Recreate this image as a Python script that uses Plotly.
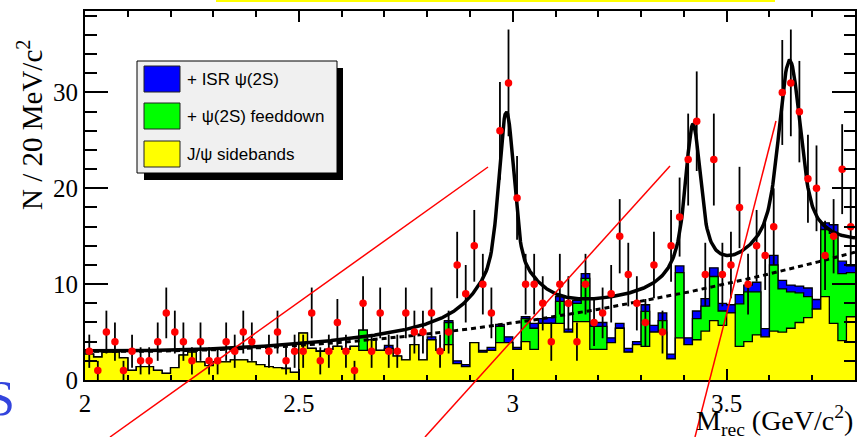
import numpy as np
import plotly.graph_objects as go

# ---------------- data ----------------
bin_start = 2.0
bin_width = 0.02
n_bins = 90

data_counts = [3, 1, 5, 4, 1, 3, 2, 2, 4, 7,
               5, 4, 2, 4, 2, 2, 4, 3, 5, 4,
               None, 3, 5, 2, 3, 3, 7, 2, 3, 6,
               3, 1, 8, 3, 7, 3, 3, 7, 5, 5,
               7, 3, 5, 12, 9, 14, 10, 7, 26, 31,
               19, 10, 10, 8, 4, 10, 8, 4, 10, 6,
               7, 9, 15, 11, 8, 6, 12, 5, 14, 17,
               23, 27, 11, 23, 11, 12, 18, 10, 14, 13,
               16, 30, 31, 28, 21, 20, 13, 15, 22, 16]

sidebands = [2.7, 2.4, 2.9, 2.9, 2.3, 1.0, 1.4, 1.4, 1.0, 0.7,
             1.3, 2.6, 2.9, 1.9, 1.5, 1.9, 1.9, 2.1, 2.1, 1.9,
             1.6, 1.4, 1.3, 1.2, 0.8, 4.9, 3.3, 3.0, 3.2, 3.5,
             3.2, 3.5, 3.1, 4.2, 3.1, 3.3, 2.5, 2.1, 3.7, 2.1,
             4.2, 3.1, 3.7, 1.7, 1.4, 3.9, 2.9, 3.1, 3.9, 3.9,
             3.2, 4.0, 3.2, 5.9, 5.9, 5.9, 5.0, 6.1, 6.1, 3.2,
             3.2, 3.9, 5.4, 2.9, 3.7, 3.5, 5.0, 5.0, 2.2, 4.4,
             3.7, 4.2, 5.1, 6.2, 5.7, 7.0, 3.5, 4.0, 4.7, 4.5,
             5.1, 5.0, 5.4, 6.0, 6.5, 7.4, 8.7, 5.9, 4.1, 6.6]

feeddown = [0, 0, 0, 0, 0, 0, 0, 0, 0, 0,
            0, 0, 0, 0, 0, 0, 0, 0, 0, 0,
            0, 0, 0, 0, 0, 0, 0, 0, 0, 0,
            0, 0, 2.1, 0, 0, 0, 0, 0, 0, 0,
            0, 0, 2.3, 0, 0, 0, 0, 0, 1.7, 0,
            0, 2.4, 2.2, 0, 0, 2.3, 0, 1.9, 4.5, 2.4,
            2.4, 0, 0, 0, 0, 3.65, 0, 1.2, 0, 6.8,
            0, 2.2, 2.6, 4.6, 1.5, 0, 4.45, 5.2, 4.5, 0,
            6.9, 4.5, 3.8, 3.1, 2.2, 0, 7.0, 9.4, 7.0, 4.6]

isr = [0, 0, 0, 0, 0, 0, 0, 0, 0, 0,
       0, 0, 0, 0, 0, 0, 0, 0, 0, 0,
       0, 0, 0, 0, 0, 0, 0, 0, 0, 0,
       0, 0, 0, 0, 0, 0.3, 0, 0, 0, 0,
       0.3, 0, 0.2, 0.3, 0.2, 0, 0.2, 0.3, 0.2, 0.6,
       0.2, 0.2, 0.5, 0.5, 0.6, 0.5, 0.3, 0.3, 0.5, 0.4,
       0.4, 0.5, 0.5, 0.4, 0.3, 0.7, 0.7, 0.8, 0.5, 0.7,
       0.7, 0.8, 0.8, 0.9, 0.8, 0.85, 0.95, 0.7, 1.0, 0.85,
       1.0, 0.9, 0.7, 0.7, 0.9, 1.0, 0.7, 0.9, 1.3, 0.7]

# fit model parameters
bg_coef = [3.0, -0.557, 3.5]            # a + b*(x-2) + c*(x-2)^2
peak_mass = [2.985, 3.421, 3.647]
peak_core = [14.0, 6.0, 13.5]           # gaussian core amplitude
peak_sigma = [0.016, 0.014, 0.022]
peak_tail = [8.0, 10.5, 8.0]            # lorentzian amplitude
peak_gamma = [0.07, 0.03, 0.07]

x_ticks = [2, 2.5, 3, 3.5]
x_tick_text = ["2", "2.5", "3", "3.5"]
y_ticks = [0, 10, 20, 30]
y_tick_text = ["0", "10", "20", "30"]

legend_labels = ["+ ISR \u03c8(2S)", "+ \u03c8(2S) feeddown", "J/\u03c8 sidebands"]
legend_colors = ["#0000ff", "#00ff00", "#ffff00"]

# ---------------- derived ----------------
edges = bin_start + bin_width * np.arange(n_bins + 1)
centers = edges[:-1] + bin_width / 2
yellow = np.array(sidebands, float)
green = yellow + np.array(feeddown, float)
blue = green + np.array(isr, float)


def step(vals):
    return list(vals) + [vals[-1]]


def background(x):
    d = x - 2.0
    return bg_coef[0] + bg_coef[1] * d + bg_coef[2] * d * d


def fit_total(x):
    y = background(x)
    for m, g, s, b, w in zip(peak_mass, peak_core, peak_sigma, peak_tail, peak_gamma):
        d = x - m
        y = y + g * np.exp(-d * d / (2 * s * s)) + b / (1 + (d / w) ** 2)
    return y


xs = np.linspace(2.0, 3.8, 901)

fig = go.Figure()
for vals, col in [(blue, "#0000ff"), (green, "#00ff00"), (yellow, "#ffff00")]:
    fig.add_trace(go.Scatter(x=edges, y=step(vals), mode="lines", line_shape="hv",
                             line=dict(color="black", width=1.3), fill="tozeroy",
                             fillcolor=col, showlegend=False, hoverinfo="skip"))

fig.add_trace(go.Scatter(x=xs, y=background(xs), mode="lines",
                         line=dict(color="black", width=3, dash="5px,4px"), showlegend=False))
fig.add_trace(go.Scatter(x=xs, y=fit_total(xs), mode="lines",
                         line=dict(color="black", width=3.5), showlegend=False))

ydata = [np.nan if v is None else v for v in data_counts]
yerr = [np.nan if v is None else np.sqrt(v) for v in data_counts]
fig.add_trace(go.Scatter(x=centers, y=ydata, mode="markers",
                         marker=dict(color="#ff0000", size=7.5),
                         error_y=dict(type="data", array=yerr, thickness=1.8, width=0, color="black"),
                         showlegend=False))

# ---------------- layout geometry ----------------
W, H = 858, 437
ML, MR, MT, MB = 85, 3, 11, 57
pw, ph = W - ML - MR, H - MT - MB


def px(X):
    return (X - ML) / pw


def py(Y):
    return (H - MB - Y) / ph


serif = "Liberation Serif"
sans = "Liberation Sans"

fig.update_layout(
    width=W, height=H, margin=dict(l=ML, r=MR, t=MT, b=MB, autoexpand=False),
    paper_bgcolor="white", plot_bgcolor="white",
    xaxis=dict(range=[2, 3.8], tickvals=x_ticks, ticktext=x_tick_text, ticks="inside",
               ticklen=11, tickwidth=1.5, tickcolor="black", showline=True, linewidth=2,
               linecolor="black", mirror="ticks", showgrid=False, zeroline=False, automargin=False,
               tickfont=dict(family=serif, size=25, color="black"),
               minor=dict(dtick=0.1, ticklen=5.5, ticks="inside", tickcolor="black", tickwidth=1.5)),
    yaxis=dict(range=[0, 38.5], tickvals=y_ticks, ticktext=y_tick_text, ticks="inside",
               ticklen=23, tickwidth=1.5, tickcolor="black", showline=True, linewidth=2,
               linecolor="black", mirror="ticks", showgrid=False, zeroline=False, automargin=False,
               tickfont=dict(family=serif, size=25, color="black"),
               minor=dict(dtick=2, ticklen=11.5, ticks="inside", tickcolor="black", tickwidth=1.5)),
)

shapes = []
# legend box with shadow
shapes.append(dict(type="rect", xref="paper", yref="paper", x0=px(144), x1=px(343), y0=py(180), y1=py(68),
                   fillcolor="black", line=dict(width=0), layer="above"))
shapes.append(dict(type="rect", xref="paper", yref="paper", x0=px(137), x1=px(337), y0=py(173), y1=py(61),
                   fillcolor="#f0f0f0", line=dict(color="black", width=1), layer="above"))
sw_top = [66, 103, 141]
for t, c in zip(sw_top, legend_colors):
    shapes.append(dict(type="rect", xref="paper", yref="paper", x0=px(144), x1=px(180), y0=py(t + 26), y1=py(t),
                       fillcolor=c, line=dict(color="#222222", width=1), layer="above"))

# top yellow strip and red overlay lines
shapes.append(dict(type="rect", xref="paper", yref="paper", x0=px(216), x1=px(775), y0=py(2), y1=py(0),
                   fillcolor="#ffff00", line=dict(width=0)))
red_lines = [((110, 437), (488, 167)), ((425, 437), (670, 166)), ((695, 437), (776, 121))]
for (a, b) in red_lines:
    shapes.append(dict(type="line", xref="paper", yref="paper", x0=px(a[0]), y0=py(a[1]),
                       x1=px(b[0]), y1=py(b[1]), line=dict(color="#ff0000", width=1.5), layer="above"))
fig.update_layout(shapes=shapes)

ann = []
for t, lab in zip(sw_top, legend_labels):
    ann.append(dict(xref="paper", yref="paper", x=px(185), y=py(t + 13), text=lab, showarrow=False,
                    xanchor="left", yanchor="middle", font=dict(family=sans, size=17, color="black")))
ann.append(dict(xref="paper", yref="paper", x=px(30), y=py(125), text="N / 20 MeV/c<sup>2</sup>",
                showarrow=False, textangle=-90, xanchor="center", yanchor="middle",
                font=dict(family=serif, size=29, color="black")))
ann.append(dict(xref="paper", yref="paper", x=1.0, y=py(442), text="M<sub>rec</sub> (GeV/c<sup>2</sup>)",
                showarrow=False, xanchor="right", yanchor="bottom",
                font=dict(family=serif, size=28, color="black")))
ann.append(dict(xref="paper", yref="paper", x=px(17), y=py(398), text="S", showarrow=False,
                xanchor="right", yanchor="middle", font=dict(family=serif, size=50, color="#3344dd")))
fig.update_layout(annotations=ann)

fig.write_html("out.html", config={"displayModeBar": False},
               post_script="document.body.style.margin='0';document.body.style.overflow='hidden';")
